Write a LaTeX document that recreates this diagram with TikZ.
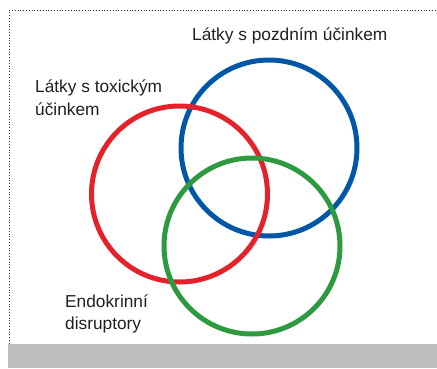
\documentclass[tikz,border=0pt]{standalone}
\usepackage{fontspec}
\setmainfont{Liberation Sans}
\definecolor{vred}{HTML}{E5222A}
\definecolor{vblue}{HTML}{0057A8}
\definecolor{vgreen}{HTML}{2E9A40}
\definecolor{band}{HTML}{BDBEC0}
\definecolor{txt}{HTML}{231F20}
\tikzset{
  ring/.style={line width=5pt},
  lbl/.style={anchor=base west, inner sep=0pt, text=txt, font=\fontsize{17.3}{22.5}\selectfont, align=left},
  frame/.style={line width=0.8pt, dotted, black!80}
}
\begin{document}
\begin{tikzpicture}[x=1pt,y=-1pt]
\useasboundingbox (0,0) rectangle (437,368);
\fill[band] (8,343.5) rectangle (437,368);
\draw[frame] (9,343.5) -- (9,10.5) -- (437,10.5);
\draw[ring, vblue] (269,148) circle[radius=88];
\draw[ring, vred] (179.5,194) circle[radius=88];
\draw[ring, vgreen] (252,246) circle[radius=88];
\node[lbl] (late) at (192,40) {Látky s pozdním účinkem};
\node[lbl] (toxic) at (35,115) {Látky s toxickým\\účinkem};
\node[lbl] (endo) at (65,329.5) {Endokrinní\\disruptory};
\end{tikzpicture}
\end{document}
